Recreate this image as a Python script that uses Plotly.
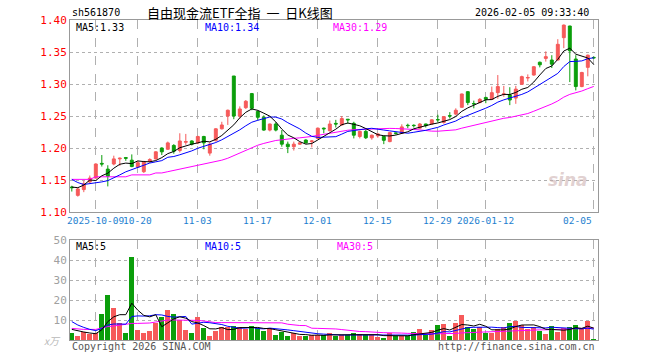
import plotly.graph_objects as go

# ---------------- data ----------------
opens = [1.139, 1.126, 1.135, 1.147, 1.153, 1.176, 1.167, 1.175, 1.183, 1.185,
         1.181, 1.170, 1.163, 1.179, 1.183, 1.200, 1.198, 1.204, 1.196, 1.209,
         1.211, 1.208, 1.218, 1.192, 1.212, 1.230, 1.250, 1.3125, 1.250, 1.263,
         1.285, 1.257, 1.248, 1.228, 1.2375, 1.220, 1.206, 1.202, 1.206, 1.2125,
         1.210, 1.215, 1.231, 1.227, 1.2385, 1.236, 1.245, 1.2386, 1.218, 1.226,
         1.216, 1.219, 1.218, 1.210, 1.2235, 1.223, 1.2355, 1.2355, 1.231, 1.2375,
         1.2375, 1.2445, 1.240, 1.2505, 1.253, 1.2636, 1.288, 1.2695, 1.271, 1.279,
         1.276, 1.2865, 1.284, 1.283, 1.278, 1.2995, 1.3095, 1.314, 1.334, 1.340,
         1.3375, 1.3375, 1.3724, 1.3906, 1.339, 1.296, 1.326, 1.3415]
highs = [1.141, 1.138, 1.149, 1.157, 1.176, 1.189, 1.173, 1.188, 1.185, 1.186,
         1.190, 1.180, 1.180, 1.184, 1.195, 1.201, 1.210, 1.206, 1.223, 1.222,
         1.212, 1.219, 1.219, 1.209, 1.231, 1.241, 1.260, 1.3125, 1.265, 1.275,
         1.286, 1.258, 1.251, 1.238, 1.240, 1.228, 1.210, 1.210, 1.209, 1.2135,
         1.212, 1.232, 1.232, 1.243, 1.244, 1.250, 1.245, 1.241, 1.227, 1.229,
         1.221, 1.223, 1.219, 1.225, 1.224, 1.237, 1.238, 1.237, 1.239, 1.238,
         1.245, 1.252, 1.250, 1.256, 1.262, 1.285, 1.289, 1.274, 1.278, 1.280,
         1.296, 1.314, 1.297, 1.295, 1.297, 1.313, 1.315, 1.328, 1.335, 1.351,
         1.345, 1.370, 1.393, 1.391, 1.345, 1.319, 1.346, 1.343]
lows = [1.132, 1.124, 1.131, 1.145, 1.152, 1.171, 1.140, 1.173, 1.172, 1.180,
        1.170, 1.169, 1.161, 1.177, 1.182, 1.189, 1.197, 1.191, 1.193, 1.205,
        1.204, 1.206, 1.198, 1.188, 1.210, 1.229, 1.236, 1.245, 1.246, 1.261,
        1.259, 1.243, 1.227, 1.226, 1.226, 1.202, 1.192, 1.196, 1.205, 1.207,
        1.201, 1.214, 1.223, 1.226, 1.232, 1.235, 1.238, 1.215, 1.215, 1.214,
        1.213, 1.216, 1.206, 1.209, 1.221, 1.222, 1.231, 1.232, 1.230, 1.232,
        1.236, 1.240, 1.238, 1.246, 1.251, 1.263, 1.267, 1.262, 1.270, 1.270,
        1.275, 1.277, 1.280, 1.267, 1.269, 1.299, 1.304, 1.313, 1.326, 1.335,
        1.325, 1.337, 1.356, 1.303, 1.290, 1.295, 1.312, 1.339]
closes = [1.138, 1.136, 1.144, 1.153, 1.175, 1.175, 1.156, 1.183, 1.184, 1.184,
          1.171, 1.177, 1.178, 1.182, 1.194, 1.194, 1.208, 1.195, 1.211, 1.210,
          1.206, 1.218, 1.208, 1.206, 1.230, 1.236, 1.259, 1.250, 1.261, 1.273,
          1.262, 1.248, 1.228, 1.2375, 1.228, 1.206, 1.202, 1.206, 1.208, 1.208,
          1.211, 1.231, 1.230, 1.2375, 1.2375, 1.246, 1.244, 1.220, 1.226, 1.216,
          1.220, 1.222, 1.212, 1.224, 1.223, 1.233, 1.235, 1.235, 1.2375, 1.235,
          1.244, 1.244, 1.249, 1.250, 1.259, 1.2844, 1.271, 1.269, 1.276, 1.276,
          1.2865, 1.296, 1.2845, 1.275, 1.292, 1.3115, 1.310, 1.327, 1.330, 1.3427,
          1.331, 1.362, 1.392, 1.352, 1.296, 1.318, 1.345, 1.341]
volumes = [3.3, 2.0, 4.2, 3.0, 3.3, 13.0, 22.5, 16.2, 8.3, 3.3,
           41.7, 5.0, 3.3, 4.5, 8.7, 11.7, 15.0, 12.8, 10.0, 5.0,
           3.3, 11.5, 6.2, 2.0, 4.7, 6.7, 6.3, 7.0, 6.3, 5.3,
           7.0, 5.8, 4.5, 5.8, 2.5, 4.2, 2.0, 3.3, 2.0, 2.0,
           2.5, 2.5, 2.5, 3.3, 2.0, 2.5, 2.5, 3.7, 3.0, 2.5,
           2.5, 1.7, 1.2, 3.3, 2.0, 2.0, 2.0, 4.0, 5.5, 2.5,
           5.0, 7.5, 8.0, 2.0, 8.7, 12.5, 6.3, 5.5, 6.3, 3.7,
           3.7, 5.3, 6.3, 8.7, 9.7, 7.5, 5.5, 6.3, 4.5, 3.0,
           7.0, 4.2, 5.8, 6.3, 7.5, 5.3, 9.7, 0.7]

# moving-average values at the start of the window (drawn from earlier history)
ma5_head = [1.139, 1.138, 1.142, 1.150]
ma10_head = [1.151, 1.146, 1.143, 1.144, 1.146, 1.147, 1.149, 1.153, 1.158]
ma30_head = [1.151, 1.151, 1.151, 1.151, 1.155, 1.155, 1.155, 1.155, 1.155, 1.155,
             1.158, 1.158, 1.158, 1.158, 1.161, 1.161, 1.163, 1.165, 1.166, 1.168,
             1.170, 1.172, 1.174, 1.176, 1.178, 1.181, 1.184, 1.188, 1.192]
vma5_head = [5.3, 4.5, 4.0, 3.5]
vma10_head = [9.2, 7.5, 6.3, 5.3, 4.7, 5.8, 7.5, 8.0, 8.0]
vma30_head = [5.8, 5.5, 5.3, 5.3, 5.3, 6.0, 6.7, 7.0, 7.5, 8.0,
              8.3, 8.3, 8.3, 8.5, 9.0, 9.5, 10.0, 10.0, 10.0, 10.0,
              10.0, 9.8, 9.5, 9.0, 8.7, 8.7, 8.7, 8.7, 8.7]

tick_idx = [4, 11, 21, 31, 41, 51, 61, 69, 87]
tick_labels = ["2025-10-09", "10-20", "11-03", "11-17", "12-01",
               "12-15", "12-29", "2026-01-12", "02-05"]
price_ticks = [1.10, 1.15, 1.20, 1.25, 1.30, 1.35, 1.40]
vol_ticks = [10, 20, 30, 40, 50]

code = "sh561870"
title = "自由现金流ETF全指\u00a0\u00a0一\u00a0\u00a0日K线图"
stamp = "2026-02-05 09:33:40"
ma_labels = ["MA5:1.33", "MA10:1.34", "MA30:1.29"]
vma_labels = ["MA5:5", "MA10:5", "MA30:5"]


def moving(values, n, head):
    out = list(head)
    for i in range(len(head), len(values)):
        out.append(sum(values[i - n + 1:i + 1]) / n)
    return out


n = len(closes)
xs = list(range(n))
ma5 = moving(closes, 5, ma5_head)
ma10 = moving(closes, 10, ma10_head)
ma30 = moving(closes, 30, ma30_head)
vma5 = moving(volumes, 5, vma5_head)
vma10 = moving(volumes, 10, vma10_head)
vma30 = moving(volumes, 30, vma30_head)

RED = "#f65a5a"
GREEN = "#0b9e0b"
MONO = "DejaVu Sans Mono"
vol_colors = [RED if c >= o else GREEN for o, c in zip(opens, closes)]

fig = go.Figure()
fig.add_trace(go.Candlestick(
    x=xs, open=opens, high=highs, low=lows, close=closes,
    increasing=dict(line=dict(color=RED, width=1), fillcolor=RED),
    decreasing=dict(line=dict(color=GREEN, width=1), fillcolor=GREEN),
    whiskerwidth=0, hoverinfo="skip", xaxis="x", yaxis="y", showlegend=False))
for vals, col in [(ma30, "#ff00ff"), (ma10, "#0000ff"), (ma5, "#000000")]:
    fig.add_trace(go.Scatter(x=xs, y=vals, mode="lines", line=dict(color=col, width=1),
                             hoverinfo="skip", xaxis="x", yaxis="y", showlegend=False))

fig.add_trace(go.Bar(x=xs, y=volumes, marker=dict(color=vol_colors, line=dict(width=0)),
                     width=0.8, hoverinfo="skip", xaxis="x2", yaxis="y2", showlegend=False))
for vals, col in [(vma30, "#ff00ff"), (vma10, "#0000ff"), (vma5, "#000000")]:
    fig.add_trace(go.Scatter(x=xs, y=vals, mode="lines", line=dict(color=col, width=1),
                             hoverinfo="skip", xaxis="x2", yaxis="y2", showlegend=False))

xr = [-0.3, n - 0.3]
xcommon = dict(range=xr, tickvals=tick_idx, showticklabels=False, ticks="",
               showgrid=True, gridcolor="#b0b0b0", griddash="dash", gridwidth=1,
               showline=True, mirror=True, linecolor="#999999", linewidth=1,
               zeroline=False, fixedrange=True)

fig.update_layout(
    width=660, height=360,
    margin=dict(l=70, r=62, t=20, b=20),
    paper_bgcolor="white", plot_bgcolor="white",
    bargap=0,
    xaxis=dict(**xcommon, anchor="y", rangeslider=dict(visible=False)),
    xaxis2=dict(**xcommon, anchor="y2", matches="x"),
    yaxis=dict(domain=[0.4, 1.0], range=[1.10, 1.40], tickvals=price_ticks,
               ticktext=[f"{v:.2f}" for v in price_ticks],
               tickfont=dict(family=MONO, size=11, color="#ff0000"), ticks="",
               showgrid=True, gridcolor="#b0b0b0", griddash="dot", gridwidth=1,
               showline=True, mirror=True, linecolor="#999999", linewidth=1,
               zeroline=False, fixedrange=True),
    yaxis2=dict(domain=[0.0, 0.3125], range=[0, 50], tickvals=vol_ticks,
                ticktext=[str(v) for v in vol_ticks],
                tickfont=dict(family=MONO, size=11, color="#a0a0a0"), ticks="",
                showgrid=True, gridcolor="#b0b0b0", griddash="dot", gridwidth=1,
                showline=True, mirror=True, linecolor="#999999", linewidth=1,
                zeroline=False, fixedrange=True),
)

ann = []
# date labels under the price panel
for i, (ix, lab) in enumerate(zip(tick_idx, tick_labels)):
    ann.append(dict(x=ix, xref="x", y=0.372, yref="paper", text=lab, showarrow=False,
                    xanchor="right" if i == len(tick_idx) - 1 else "center", yanchor="middle",
                    font=dict(family=MONO, size=9.5, color="#1e7fd0")))
# header
ann.append(dict(x=0, xref="paper", y=1.022, yref="paper", text=code, showarrow=False,
                xanchor="left", yanchor="middle", font=dict(family=MONO, size=10, color="#000")))
ann.append(dict(x=0.322, xref="paper", y=1.025, yref="paper", text=title, showarrow=False,
                xanchor="center", yanchor="middle",
                font=dict(family="Noto Sans CJK SC", size=13, color="#000")))
ann.append(dict(x=0.987, xref="paper", y=1.022, yref="paper", text=stamp, showarrow=False,
                xanchor="right", yanchor="middle", font=dict(family=MONO, size=10, color="#000")))
# MA labels
ma_cols = ["#000000", "#0000ff", "#ff00ff"]
ma_x = [0.0076, 0.2519, 0.4943]
for lab, col, xx in zip(ma_labels, ma_cols, ma_x):
    ann.append(dict(x=xx, xref="paper", y=0.978, yref="paper", text=lab, showarrow=False,
                    xanchor="left", yanchor="middle", font=dict(family=MONO, size=10, color=col)))
vma_x = [0.0076, 0.2519, 0.5019]
for lab, col, xx in zip(vma_labels, ma_cols, vma_x):
    ann.append(dict(x=xx, xref="paper", y=0.292, yref="paper", text=lab, showarrow=False,
                    xanchor="left", yanchor="middle", font=dict(family=MONO, size=10, color=col)))
# footer
ann.append(dict(x=0, xref="paper", y=-0.019, yref="paper", text="Copyright 2026 SINA.COM",
                showarrow=False, xanchor="left", yanchor="middle",
                font=dict(family=MONO, size=10, color="#555555")))
ann.append(dict(x=0.998, xref="paper", y=-0.019, yref="paper", text="http://finance.sina.com.cn",
                showarrow=False, xanchor="right", yanchor="middle",
                font=dict(family=MONO, size=10, color="#555555")))
ann.append(dict(x=-0.013, xref="paper", y=0.0, yref="paper", text="<i>x万</i>",
                showarrow=False, xanchor="right", yanchor="middle",
                font=dict(family="Noto Sans CJK SC", size=10, color="#b8b8b8")))
# watermark
ann.append(dict(x=0.985, xref="paper", y=0.5, yref="paper", text="<b><i>sina</i></b>",
                showarrow=False, xanchor="right", yanchor="middle",
                font=dict(family="DejaVu Sans", size=17, color="rgba(200,170,170,0.55)")))
fig.update_layout(annotations=ann)

fig.write_html("out.html", config={"displayModeBar": False, "staticPlot": True},
               post_script="document.body.style.margin='0';")
